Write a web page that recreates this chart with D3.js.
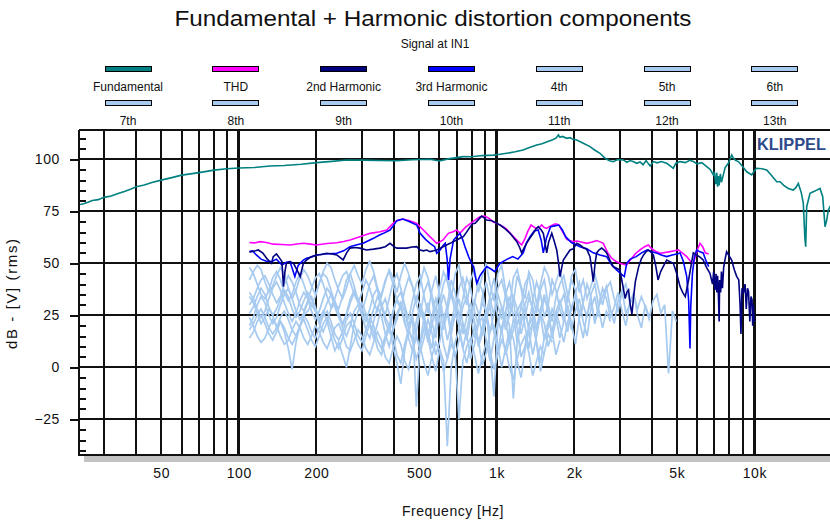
<!DOCTYPE html>
<html>
<head>
<meta charset="utf-8">
<script src="https://cdn.jsdelivr.net/npm/d3@7"></script>
<style>
  html, body { margin: 0; padding: 0; background: #fff; }
  svg { display: block; font-family: "Liberation Sans", Arial, sans-serif; }
</style>
</head>
<body>
<svg id="chart" width="830" height="521"></svg>
<script>
// ---- Legend ----
const legendNames = ["Fundamental", "THD", "2nd Harmonic", "3rd Harmonic", "4th", "5th", "6th",
                     "7th", "8th", "9th", "10th", "11th", "12th", "13th"];
const legendColors = ["#008080", "#ff00ff", "#000080", "#0000ff", "#a6caf0", "#a6caf0", "#a6caf0",
                      "#a6caf0", "#a6caf0", "#a6caf0", "#a6caf0", "#a6caf0", "#a6caf0", "#a6caf0"];

// ---- Axes ----
const yMajorTicks = [-25, 0, 25, 50, 75, 100];
const yMinorTicks = [-40, -35, -30, -20, -15, -10, -5, 5, 10, 15, 20, 30, 35, 40, 45, 55, 60, 65, 70, 80, 85, 90, 95, 105, 110];
const xGridHz = [30, 40, 50, 60, 70, 80, 90, 200, 300, 400, 500, 600, 700, 800, 900,
                 2000, 3000, 4000, 5000, 6000, 7000, 8000, 9000];
const xDecadeHz = [100, 1000, 10000];
const xTickHz = [50, 100, 200, 500, 1000, 2000, 5000, 10000];
const xTickText = ["50", "100", "200", "500", "1k", "2k", "5k", "10k"];

// ---- Fundamental, THD, 2nd and 3rd harmonic: [Hz, dB] ----
const fundamental = [[24,78.2],[25,78.6],[26,79.4],[27,80.2],[28.5,80.6],[30,81.7],[32,82.4],[34,83.6],[36,84.5],[38,85.6],[40,86.8],[43,87.6],[46,88.9],[50,90],[55,91.2],[60,92.4],[65,93],[70,93.6],[75,94.2],[80,94.8],[90,95.5],[100,95.8],[115,96.1],[132,96.8],[150,97],[175,97.6],[200,98.4],[230,99],[262,99.7],[300,99.6],[350,99.4],[410,99.3],[470,99.8],[552,100],[600,99.2],[650,100.2],[700,100.8],[743,101.3],[800,101.2],[880,101.8],[971,102],[1030,102.4],[1095,102.9],[1180,103.6],[1266,104.5],[1350,105.8],[1431,106.9],[1500,107.5],[1580,108.6],[1650,109.4],[1700,110.2],[1736,111.7],[1760,110.6],[1800,111],[1871,110.1],[1927,110.4],[1980,109.6],[2045,109.3],[2150,108],[2303,106.1],[2400,104.5],[2518,102.9],[2600,101.2],[2674,100],[2760,99.2],[2837,98.9],[2950,99.9],[3101,99.7],[3200,98.6],[3300,99.4],[3400,98.8],[3497,98.1],[3600,98.7],[3700,97.4],[3800,99.4],[3941,96.8],[4055,98.9],[4200,98.3],[4350,98.9],[4569,98.1],[4700,97],[4848,95.7],[4950,98],[5148,98.9],[5400,98.4],[5600,99.5],[5797,98.9],[6000,97.8],[6250,98.4],[6533,96.5],[6750,95],[6927,92.5],[7000,94],[7080,88],[7150,93.5],[7200,86.8],[7250,92],[7300,87.5],[7380,93],[7450,89],[7577,92.5],[7700,96],[7922,98.1],[8050,100],[8167,102.1],[8300,100.5],[8450,99.5],[8666,98.9],[9000,96.5],[9337,94],[9764,92.5],[10000,94.5],[10212,95.7],[10700,95.5],[11165,94.9],[11700,92],[12207,89.2],[12573,89.2],[13000,87.5],[13536,86],[14155,85.2],[14500,86.5],[14803,88.4],[15200,84],[15478,78.8],[15700,62],[15814,58],[15900,70],[15956,77.2],[16433,83.7],[17000,84.5],[17449,85.2],[17969,86],[18408,82],[18650,73],[18790,67.6],[19078,70.8],[19352,75.6],[19646,77.2],[20000,76]];

const thd = [[110,60],[115,59.8],[121,60.4],[128,60],[136,59.2],[147,59],[158,58.8],[168,59.3],[178,59.6],[190,59.2],[200,58.8],[220,59.5],[240,59.9],[255,60.5],[270,61.2],[295,62.8],[323,64.4],[353,65.2],[375,66],[395,69],[410,70.5],[433,71.3],[460,70.5],[490,69.2],[520,66],[551,62.8],[586,59.6],[605,60.4],[620,61.2],[650,64.4],[678,65.2],[700,66],[721,64.5],[760,67.5],[810,70],[840,71.5],[862,72.4],[900,72.7],[935,71.6],[968,70],[1000,69.2],[1050,68],[1094,66.5],[1130,64.4],[1190,61.5],[1251,58.8],[1290,62],[1320,65.2],[1360,68.4],[1420,66.8],[1474,67.5],[1496,68.4],[1530,67.2],[1565,66.8],[1620,68],[1680,68.9],[1711,68.9],[1750,68.2],[1788,66],[1830,63.8],[1872,61.5],[1920,61],[1984,60.4],[2050,60.7],[2107,60.4],[2236,59.6],[2350,60.2],[2445,60.9],[2520,60.3],[2594,59.6],[2700,55],[2796,52.4],[2900,51],[3010,50],[3100,49.5],[3196,49.2],[3270,51],[3343,52.4],[3450,54.5],[3600,56.4],[3750,58],[3878,58.8],[3960,57.5],[4055,56.4],[4180,55.5],[4305,54.8],[4500,55.2],[4707,55.6],[4900,56],[5070,56.4],[5250,55],[5465,53.2],[5650,51],[5794,50],[5900,53],[6005,56.4],[6152,59.6],[6300,58],[6450,55],[6650,54.5]];

const harmonic2 = [[110,55.4],[112,55.6],[116,56],[119,56.4],[124,54.9],[129,52],[134,50],[136,53.2],[140,54.5],[144,52.5],[147,50.8],[149,38.8],[151,46],[153,50],[158,50.8],[163,50],[168,47],[173,43.6],[178,50],[183,51.5],[190,53],[200,54],[210,54.2],[219,54.8],[230,54.5],[240,54],[254,51.6],[262,55],[270,57.3],[283,57.6],[295,57.3],[313,56.4],[333,56.8],[353,57.3],[370,58],[386,59.6],[400,58],[410,57.3],[430,57.3],[448,57.3],[470,57.8],[490,58],[505,56.4],[520,56],[536,56.4],[552,55.6],[570,56],[586,56.4],[604,57.2],[623,58],[645,59],[661,59.6],[680,60.5],[702,61.2],[720,62],[743,62.8],[765,65],[790,67.6],[808,69],[826,69.2],[850,71],[875,72.7],[895,71.8],[916,70.8],[958,70.5],[1001,69.2],[1031,68.4],[1080,66.5],[1128,64.4],[1160,62.5],[1198,60.4],[1230,57.5],[1251,55],[1280,57.5],[1307,59.6],[1345,62],[1387,64.4],[1420,66.5],[1451,67.6],[1490,66],[1518,64.4],[1540,60],[1565,55],[1590,60],[1637,64.4],[1670,61],[1711,56.4],[1740,50],[1762,43.6],[1790,48],[1815,51.6],[1870,54],[1927,56.4],[1984,57],[2045,59.6],[2107,58.8],[2170,57.5],[2236,56.8],[2303,53.2],[2340,47],[2372,41.2],[2410,50],[2445,55],[2500,56.5],[2556,57.3],[2620,56.2],[2674,55],[2750,51.5],[2837,48.4],[2920,47.6],[3010,46.8],[3080,40],[3154,33],[3200,36],[3250,37.2],[3300,30],[3350,25.6],[3400,34],[3453,41.2],[3558,48.4],[3640,52],[3717,54],[3800,55.5],[3878,56.4],[3960,55.5],[4055,54],[4140,49],[4230,42],[4330,46],[4428,48.4],[4569,51.6],[4700,50.8],[4848,50],[5000,45],[5148,38.8],[5270,36],[5393,34],[5557,42],[5700,50],[5794,55],[5970,54],[6150,53],[6329,51.6],[6520,48],[6724,45.2],[6880,40],[6950,46],[7032,37.2],[7100,45],[7150,36],[7200,44],[7250,35],[7300,22],[7330,42],[7400,36],[7450,46],[7520,38],[7600,48],[7700,52],[7802,55.6],[7980,53.5],[8164,51.6],[8350,47],[8543,43.6],[8700,42],[8800,30],[8870,16],[8950,38],[9069,35.7],[9200,40],[9300,28],[9400,38],[9490,36.5],[9600,22],[9700,34],[9792,32.5],[9850,20],[9900,30],[9940,26.1],[10000,22]];

const harmonic3 = [[110,55.6],[113,56],[117,54],[122,52],[128,51],[134,50.8],[140,52],[147,49.2],[153,50.5],[158,50.8],[165,43.6],[170,49],[178,51.5],[183,52.4],[192,53],[200,54],[215,54.5],[240,54.8],[255,56],[270,58],[285,58.8],[304,59.6],[318,60.8],[333,62],[350,63.5],[364,64.4],[386,66],[400,68.5],[410,70.5],[433,71.3],[460,70],[490,68.4],[505,64.4],[530,61.5],[552,59.6],[575,58],[586,54.8],[604,56.4],[620,58.5],[632,59.6],[643,52],[651,42],[660,52],[681,61.2],[702,63],[721,64.4],[738,61.5],[754,58],[780,53],[800,50],[814,48.4],[826,44],[838,40.4],[862,44],[875,45.2],[916,48.4],[958,47],[982,46],[1031,50],[1100,52],[1155,53.2],[1210,52],[1269,55],[1307,60],[1348,62.8],[1400,65.5],[1450,66],[1490,61],[1518,55],[1560,62],[1620,67.6],[1680,68],[1743,68.4],[1800,66],[1852,62.8],[1950,60],[2107,58],[2236,57],[2372,55],[2520,54],[2674,53.2],[2800,49],[2921,46.8],[3030,45],[3130,43.6],[3196,50],[3300,52],[3480,53.2],[3650,55],[3837,56.4],[4000,55.5],[4165,55],[4350,54],[4569,53.2],[4800,54],[5000,54.5],[5148,55],[5300,51],[5465,43.6],[5560,32],[5626,9],[5664,29.2],[5750,45],[5850,53],[5970,56.4],[6150,55.5],[6329,55],[6500,51],[6650,48.4]];

// ---- Higher harmonics 4th..13th: dB on a common 1/20-octave frequency grid ----
const gridHz = [110,113.9,117.9,122.0,126.3,130.8,135.4,140.2,145.1,150.2,155.6,161.0,166.7,172.6,178.7,185.0,191.5,198.2,205.2,212.5,
  220,227.8,235.8,244.1,252.7,261.6,270.8,280.4,290.3,300.5,311.1,322.1,333.5,345.2,357.4,370.0,383.1,396.6,410.6,425.0,
  440,455.5,471.6,488.2,505.4,523.3,541.7,560.8,580.6,601.1,622.3,644.2,666.9,690.5,714.8,740.0,766.1,793.2,821.1,850.1,
  880,911.1,943.2,976.5,1010.9,1046.5,1083.4,1121.6,1161.2,1202.1,1244.5,1288.4,1333.9,1380.9,1429.6,1480.0,1532.3,1586.3,1642.2,1700.2,
  1760,1822.1,1886.3,1952.9,2021.8,2093.0,2166.9,2243.3,2322.4,2404.3,2489.0,2576.8,2667.7,2761.8,2859.2,2960.0,3064.4,3172.5,3284.4,3400.2,
  3520,3644.2,3772.7,3905.7,4043.5,4186.0,4333.7,4486.5,4644.7,4808.5,4978.0];

const harmonic4 = [42,46,49,47,41,36,39,44,48,45,38,33,37,43,47,44,
  39,35,40,46,50,48,42,37,33,38,45,49,44,40,47,
  51,46,38,34,41,47,43,36,44,50,45,39,31,40,48,
  43,35,27,38,46,41,33,45,49,38,
  30,42,47,36,44,50,40,32,45,
  49,37,28,43,47,39,33,46,42,30,40,48,44,35,41,47,
  38,31,44,47,36,42,33,39,45,37,
  30,38,41,33,27,36,40,31,35,28,
  34,29,23,32,35,26,30,-3,27,22];
const harmonic5 = [30,33,38,42,44,40,35,31,34,40,44,41,36,30,27,32,
  38,43,45,40,34,29,33,39,44,46,41,35,31,36,42,
  38,31,27,35,42,46,40,32,28,37,43,39,30,25,36,
  41,33,22,31,40,45,35,27,38,43,
  35,24,31,41,37,26,34,43,30,
  23,35,41,32,20,29,40,44,33,26,37,42,30,22,34,40,
  44,35,27,36,41,30,24,35,40,29,
  34,39,28,21,32,37,26,30,36,25,
  19,30,24];
const harmonic6 = [48,45,40,35,33,37,43,46,42,36,32,35,41,45,40,34,
  30,34,41,45,43,37,31,28,34,42,45,39,32,27,33,
  40,44,37,29,25,33,41,45,38,30,23,32,40,44,34,
  26,37,44,35,23,30,42,36,24,33,
  43,38,27,20,34,41,33,25,38,
  42,34,24,31,44,38,27,19,32,41,35,24,30,42,37,28,
  22,33,42,37,26,31,40,34,21,30,
  38,33,24,29,36,27,20,31];
const harmonic7 = [26,29,34,38,35,29,25,28,33,37,34,28,24,27,32,36,
  33,27,22,26,31,35,32,26,21,25,31,36,33,28,24,
  21,28,34,30,22,17,26,33,36,29,20,26,34,30,23,
  15,24,33,28,18,27,36,31,20,29,
  34,25,14,23,31,27,17,26,35,
  29,18,25,34,28,16,24,33,29,19,28,35,26,15,27,32,
  25,17,29,34,23,14,26,31,22,28,
  19,27,22];
const harmonic8 = [36,33,28,24,27,33,38,41,37,31,26,22,26,32,36,33,
  27,23,27,33,38,35,29,24,20,26,33,37,32,26,22,
  28,35,38,31,24,20,27,33,29,21,16,25,-19,12,24,
  31,22,14,27,35,28,18,25,33,21,
  13,24,32,26,15,22,31,35,24,
  16,27,34,25,12,21,30,36,27,17,25,33,28,14,23,30,
  35,26,18,27,33,22,15,28,34,24];
const harmonic9 = [20,24,30,34,31,25,21,24,30,35,38,33,27,23,26,31,
  34,29,23,27,22,15,8,12,6,0,10,21,27,31,26,
  20,14,21,29,33,26,18,23,31,27,19,13,22,30,25,
  17,9,20,29,24,13,21,30,26,16,
  24,31,22,12,19,28,8,-14,20,
  29,23,11,18,27,31,20,9,22,30,25,13,19,28,24,14,
  22,30,21,11,24,29];
const harmonic10 = [34,31,26,21,24,28,25,19,22,17,9,-1,12,20,25,27,
  30,27,21,17,22,28,31,26,19,15,20,27,30,25,18,
  14,22,29,25,16,10,18,26,30,23,14,8,17,27,22,
  12,20,28,23,11,4,16,26,20,9,
  18,27,21,10,16,25,29,17,7,
  19,27,20,-15,12,24,28,18,6,15,26,21,10,17,27,20,
  12,22,26];
const harmonic11 = [18,21,25,28,24,19,16,19,24,27,23,18,15,19,25,22,
  17,14,19,25,27,22,16,13,17,23,26,21,15,12,18,
  24,20,13,9,15,21,10,2,-8,8,18,24,16,7,14,
  23,17,6,12,22,26,15,5,13,21,
  16,4,11,21,24,13,3,14,22,
  18,6,13,23,19,5,10,20,24,12,2,15,22,17,6,13];
const harmonic12 = [14,17,22,25,21,16,13,17,22,19,14,11,15,20,23,18,
  13,10,15,21,24,19,13,9,14,20,22,17,11,8,15,
  21,17,9,6,13,19,15,6,2,11,18,13,4,10,19,
  14,5,-2,9,3,-38,0,12,18,9,
  2,11,19,13,1,7,17,20,10,
  0,9,18,14,3,-5,8,17,21,11,-2,7,16,12];
const harmonic13 = [24,20,15,12,14,19,23,20,15,11,13,18,22,19,14,11,
  15,20,17,12,9,14,19,21,16,10,8,13,18,15,9,
  6,12,17,13,5,2,9,15,11,3,-1,8,14,10,2,
  -4,5,12,8,-2,4,11,7,-25,3,
  10,14,6,-3,5,12,8,-1,6,
  13,9,0,-6,4,11,15,7,-4,3,10,6];

const higherHarmonics = [harmonic4, harmonic5, harmonic6, harmonic7, harmonic8,
                         harmonic9, harmonic10, harmonic11, harmonic12, harmonic13];

// ---- Layout ----
const svg = d3.select("#chart");
const plot = { left: 79, top: 130, right: 830, bottom: 455 };

const x = d3.scaleLog().domain([24, 20000]).range([79, 832]);
const y = d3.scaleLinear().domain([-42.2, 114.1]).range([455, 130]);

// Titles
svg.append("text").attr("x", 433).attr("y", 26).attr("text-anchor", "middle")
  .attr("font-size", 22).attr("fill", "#111")
  .attr("textLength", 517).attr("lengthAdjust", "spacingAndGlyphs")
  .text("Fundamental + Harmonic distortion components");
svg.append("text").attr("x", 435).attr("y", 48).attr("text-anchor", "middle")
  .attr("font-size", 12).attr("fill", "#111").text("Signal at IN1");

// Legend: two rows of seven entries
const legend = svg.append("g");
legendNames.forEach((name, i) => {
  const col = i % 7, row = Math.floor(i / 7);
  const cx = 128 + col * 107.8;
  const sy = 66.5 + row * 34;
  legend.append("rect").attr("x", cx - 23).attr("y", sy).attr("width", 46).attr("height", 5)
    .attr("fill", legendColors[i]).attr("stroke", "#000").attr("stroke-width", 1)
    .attr("shape-rendering", "crispEdges");
  legend.append("text").attr("x", cx).attr("y", sy + 24).attr("text-anchor", "middle")
    .attr("font-size", 12).attr("fill", "#111").text(name);
});

// Shadow under the plot frame
svg.append("rect").attr("x", 84).attr("y", 456).attr("width", 746).attr("height", 6)
  .attr("fill", "#c3c3c3");

// Grid
const grid = svg.append("g").attr("stroke", "#111").attr("shape-rendering", "crispEdges");
grid.selectAll("line.h").data(yMajorTicks).join("line")
  .attr("x1", plot.left).attr("x2", plot.right)
  .attr("y1", d => y(d)).attr("y2", d => y(d)).attr("stroke-width", 2);
grid.selectAll("line.v").data(xGridHz).join("line")
  .attr("x1", d => x(d)).attr("x2", d => x(d))
  .attr("y1", plot.top).attr("y2", plot.bottom).attr("stroke-width", 2);
grid.selectAll("line.d").data(xDecadeHz).join("line")
  .attr("x1", d => x(d)).attr("x2", d => x(d))
  .attr("y1", plot.top).attr("y2", plot.bottom).attr("stroke-width", 3);
grid.append("line").attr("x1", plot.left).attr("x2", plot.right)
  .attr("y1", plot.top).attr("y2", plot.top).attr("stroke-width", 2);

// Y axis: labelled outer ticks and inner minor ticks
const yAxis = svg.append("g").attr("transform", `translate(${plot.left},0)`)
  .call(d3.axisLeft(y).tickValues(yMajorTicks).tickSize(9).tickPadding(10).tickFormat(d3.format("d")));
yAxis.select(".domain").remove();
yAxis.selectAll("line").attr("stroke", "#111").attr("stroke-width", 2).attr("shape-rendering", "crispEdges");
yAxis.selectAll("text").attr("font-size", 14).attr("fill", "#111")
  .attr("font-family", "\"Liberation Sans\", Arial, sans-serif").attr("letter-spacing", 0.6);

const yMinor = svg.append("g").attr("transform", `translate(${plot.left},0)`)
  .call(d3.axisRight(y).tickValues(yMinorTicks).tickSize(7).tickFormat(""));
yMinor.select(".domain").remove();
yMinor.selectAll("line").attr("stroke", "#111").attr("stroke-width", 2).attr("shape-rendering", "crispEdges");

// X axis labels
const xAxis = svg.append("g").attr("transform", `translate(0,${plot.bottom})`)
  .call(d3.axisBottom(x).tickValues(xTickHz).tickSize(0).tickPadding(13)
    .tickFormat((d, i) => xTickText[i]));
xAxis.select(".domain").remove();
xAxis.selectAll("text").attr("font-size", 14).attr("fill", "#111")
  .attr("font-family", "\"Liberation Sans\", Arial, sans-serif").attr("letter-spacing", 0.6);

// Axis frame lines
svg.append("line").attr("x1", plot.left).attr("x2", plot.left).attr("y1", plot.top).attr("y2", plot.bottom + 1)
  .attr("stroke", "#111").attr("stroke-width", 2).attr("shape-rendering", "crispEdges");
svg.append("line").attr("x1", plot.left).attr("x2", plot.right).attr("y1", plot.bottom).attr("y2", plot.bottom)
  .attr("stroke", "#111").attr("stroke-width", 2).attr("shape-rendering", "crispEdges");

// Axis titles
svg.append("text").attr("transform", "translate(17,294) rotate(-90)").attr("text-anchor", "middle")
  .attr("font-size", 15).attr("fill", "#111")
  .attr("textLength", 110).attr("lengthAdjust", "spacing").text("dB - [V]  (rms)");
svg.append("text").attr("x", 453).attr("y", 516).attr("text-anchor", "middle")
  .attr("font-size", 14).attr("fill", "#111").attr("letter-spacing", 0.5).text("Frequency [Hz]");

// Curves
svg.append("clipPath").attr("id", "plot-clip").append("rect")
  .attr("x", plot.left + 1).attr("y", plot.top).attr("width", plot.right - plot.left).attr("height", plot.bottom - plot.top);
const curves = svg.append("g").attr("clip-path", "url(#plot-clip)").attr("fill", "none");
const line = d3.line().x(d => x(d[0])).y(d => y(d[1]));

higherHarmonics.forEach(vals => {
  curves.append("path").datum(vals.map((v, i) => [gridHz[i], v]))
    .attr("d", line).attr("stroke", "#a6caf0").attr("stroke-width", 1.7)
    .attr("stroke-linejoin", "miter");
});
curves.append("path").datum(fundamental).attr("d", line).attr("stroke", "#008080").attr("stroke-width", 1.6);
curves.append("path").datum(thd).attr("d", line).attr("stroke", "#ff00ff").attr("stroke-width", 1.6);
curves.append("path").datum(harmonic3).attr("d", line).attr("stroke", "#0000ff").attr("stroke-width", 1.6);
curves.append("path").datum(harmonic2).attr("d", line).attr("stroke", "#000080").attr("stroke-width", 1.6);

// Brand mark
svg.append("text").attr("x", 757).attr("y", 150).attr("font-size", 17).attr("font-weight", "bold")
  .attr("fill", "#2f4a8a").attr("textLength", 69).attr("lengthAdjust", "spacingAndGlyphs").text("KLIPPEL");
</script>
</body>
</html>
